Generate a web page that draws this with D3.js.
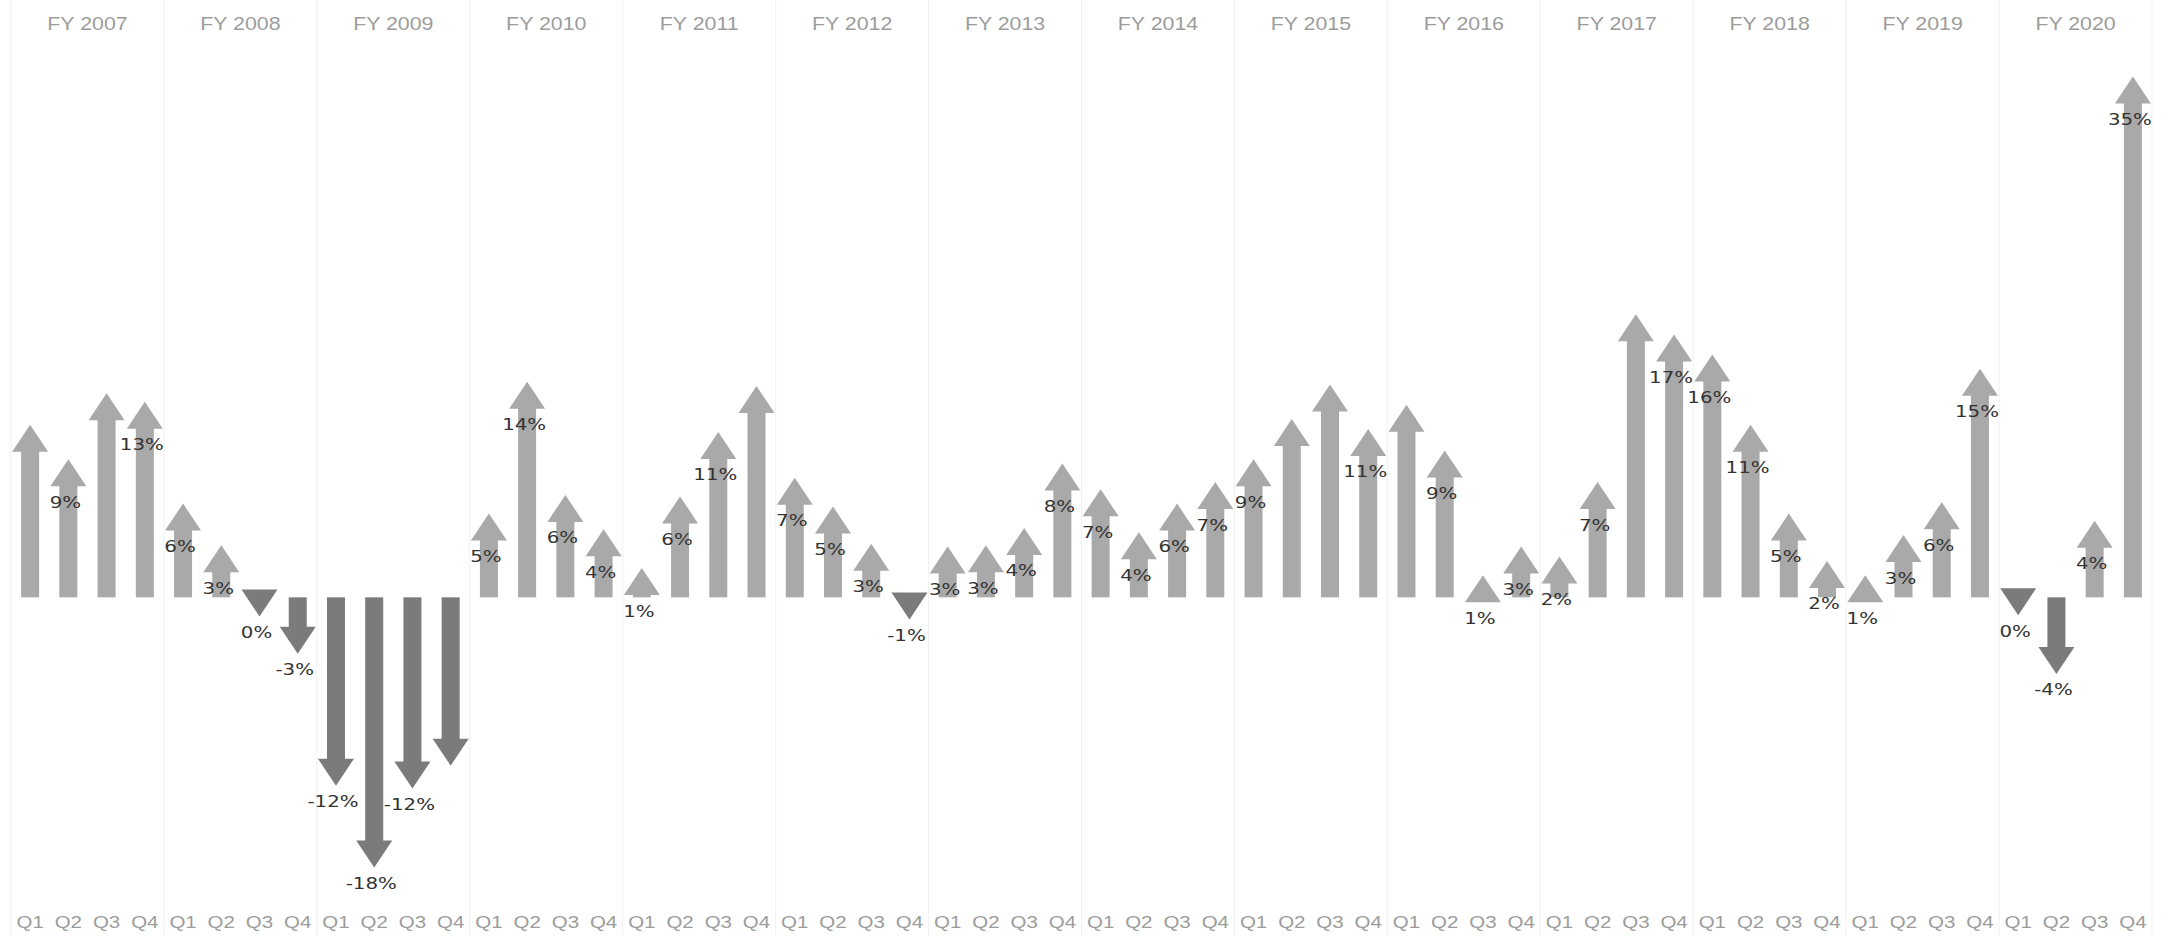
<!DOCTYPE html>
<html>
<head>
<meta charset="utf-8">
<script src="https://cdn.jsdelivr.net/npm/d3@7"></script>
<style>
  body { margin: 0; background: #fff; }
  svg { display: block; font-family: "DejaVu Sans", sans-serif; }
</style>
</head>
<body>
<div id="chart"></div>
<script>
var years = ["FY 2007", "FY 2008", "FY 2009", "FY 2010", "FY 2011", "FY 2012", "FY 2013",
             "FY 2014", "FY 2015", "FY 2016", "FY 2017", "FY 2018", "FY 2019", "FY 2020"];
var quarters = ["Q1", "Q2", "Q3", "Q4"];
// quarterly growth in % (4 per fiscal year)
var growth = [
  11.1, 8.7, 13.3, 12.7,
  5.6, 2.7, -0.4, -3.0,
  -12.2, -17.9, -12.4, -10.8,
  4.9, 14.1, 6.2, 3.8,
  1.1, 6.1, 10.6, 13.8,
  7.4, 5.4, 2.8, -0.6,
  2.6, 2.7, 3.9, 8.4,
  6.6, 3.6, 5.6, 7.1,
  8.7, 11.5, 13.9, 10.8,
  12.5, 9.3, 0.6, 2.6,
  1.9, 7.1, 18.8, 17.4,
  16.0, 11.1, 4.9, 1.6,
  0.6, 3.4, 5.7, 15.0,
  -0.3, -4.4, 4.4, 35.4
];
// labels that the original kept after overlap hiding
var showLabel = [
  0, 1, 0, 1,
  1, 1, 1, 1,
  1, 1, 1, 0,
  1, 1, 1, 1,
  1, 1, 1, 0,
  1, 1, 1, 1,
  1, 1, 1, 1,
  1, 1, 1, 1,
  1, 0, 0, 1,
  0, 1, 1, 1,
  1, 1, 0, 1,
  1, 1, 1, 1,
  1, 1, 1, 1,
  1, 1, 1, 1
];

var dim = { width: 2162, height: 936, left: 11, right: 2152 };
var head = { h: 27, w: 36 }, shaftW = 18;
var upColor = "#a9a9a9", downColor = "#7b7b7b", axisColor = "#9c9c9c";

var data = growth.map(function(v, i) {
  return { year: years[Math.floor(i / 4)], q: quarters[i % 4], v: v, show: showLabel[i] };
});

var fy = d3.scaleBand().domain(years).range([dim.left, dim.right]);
var qx = d3.scaleBand().domain(quarters).range([0, fy.bandwidth()]);
var y = d3.scaleLinear().domain([-20, 37]).range([884, 67]);

function cx(d) { return fy(d.year) + qx(d.q) + qx.bandwidth() / 2; }

var svg = d3.select("#chart").append("svg")
    .attr("width", dim.width)
    .attr("height", dim.height);

// panel dividers
svg.append("g").selectAll("line")
    .data(years.concat(["end"]))
    .enter().append("line")
    .attr("x1", function(d) { return d === "end" ? dim.right : fy(d); })
    .attr("x2", function(d) { return d === "end" ? dim.right : fy(d); })
    .attr("y1", 0)
    .attr("y2", dim.height)
    .attr("stroke", "#f1f1f1")
    .attr("stroke-width", 1);

// fiscal year header
var fyAxis = d3.axisTop(fy).tickSize(0).tickPadding(0);
var fyG = svg.append("g")
    .attr("transform", "translate(0,30)")
    .call(fyAxis);
fyG.select(".domain").remove();
fyG.selectAll("text")
    .style("fill", axisColor)
    .style("font-size", "17.5px")
    .attr("transform", "scale(1.22,1)");

// quarter labels per panel
years.forEach(function(yr) {
  var g = svg.append("g")
      .attr("transform", "translate(" + fy(yr) + ",915)")
      .call(d3.axisBottom(qx).tickSize(0).tickPadding(2));
  g.select(".domain").remove();
  g.selectAll("text")
      .style("fill", axisColor)
      .style("font-size", "16px")
      .attr("transform", "scale(1.28,1)");
});

var arrows = svg.append("g").selectAll("g.arrow")
    .data(data)
    .enter().append("g")
    .attr("class", "arrow")
    .attr("fill", function(d) { return d.v < 0 ? downColor : upColor; });

// shaft
arrows.append("rect")
    .attr("x", function(d) { return cx(d) - shaftW / 2; })
    .attr("y", function(d) { return Math.min(y(0), y(d.v)); })
    .attr("width", shaftW)
    .attr("height", function(d) { return Math.abs(y(0) - y(d.v)); });

// head, centred on the value
arrows.append("path")
    .attr("d", function(d) {
      var x = cx(d), c = y(d.v), s = d.v < 0 ? -1 : 1;
      return "M" + (x - head.w / 2) + "," + (c + s * head.h / 2) +
             "L" + x + "," + (c - s * head.h / 2) +
             "L" + (x + head.w / 2) + "," + (c + s * head.h / 2) + "Z";
    });

// value labels
svg.append("g").selectAll("text")
    .data(data.filter(function(d) { return d.show; }))
    .enter().append("text")
    .attr("transform", function(d) { return "translate(" + (cx(d) - 3) + "," + (y(d.v) + 29) + ") scale(1.2,1)"; })
    .attr("text-anchor", "middle")
    .attr("dy", "0.36em")
    .attr("fill", "#333")
    .style("font-size", "16.5px")
    .text(function(d) { return Math.round(d.v) + "%"; });
</script>
</body>
</html>
